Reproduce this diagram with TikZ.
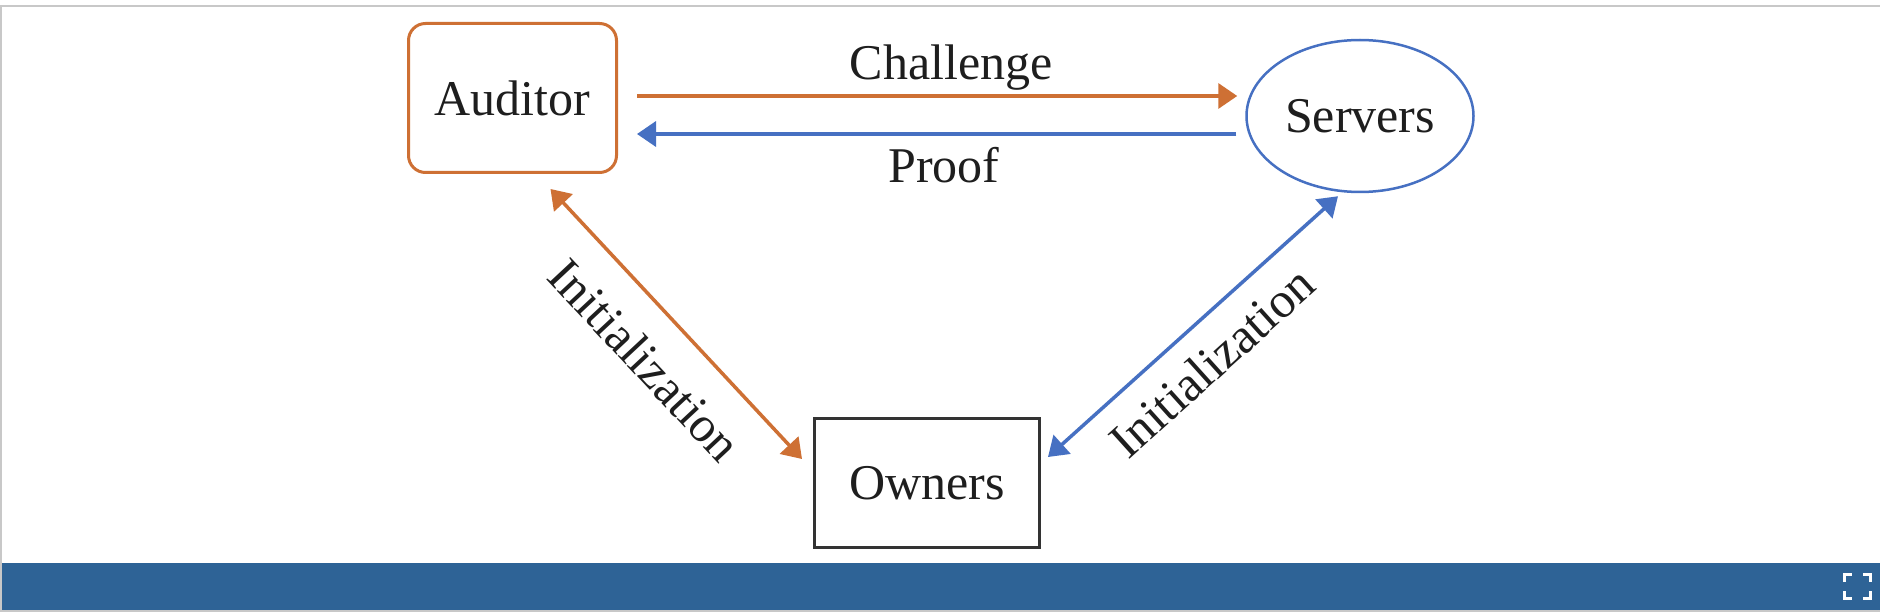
\documentclass[tikz,border=0pt]{standalone}
\usepackage{fontspec}
\setmainfont{Liberation Serif}
\usetikzlibrary{arrows.meta,shapes.geometric,calc}
\definecolor{audorange}{RGB}{206,112,52}
\definecolor{srvblue}{RGB}{70,112,194}
\definecolor{barblue}{RGB}{46,99,150}
\definecolor{framegray}{RGB}{200,200,200}
\definecolor{inkgray}{RGB}{30,30,30}
\tikzset{
  lbl/.style={font=\fontsize{50}{60}\selectfont, text=inkgray, inner sep=0pt},
  audbox/.style={lbl, draw=audorange, line width=3pt, rounded corners=17pt,
    minimum width=208pt, minimum height=149pt},
  srvell/.style={lbl, ellipse, draw=srvblue, line width=2.5pt, inner sep=0pt,
    minimum width=227pt, minimum height=152pt},
  ownbox/.style={lbl, draw=black!80, line width=3pt,
    minimum width=225pt, minimum height=129pt},
  tip/.tip={Triangle[length=19pt,width=25pt]},
  oarrow/.style={draw=audorange, line width=3.5pt, -tip, fill=audorange},
  barrow/.style={draw=srvblue, line width=3.5pt, -tip, fill=srvblue},
  dblo/.style={draw=audorange, line width=3.5pt, tip-tip},
  dblb/.style={draw=srvblue, line width=3.5pt, tip-tip},
  icon/.style={draw=white, line width=3pt, line cap=butt}
}
\begin{document}
\begin{tikzpicture}[x=1pt,y=-1pt]
\useasboundingbox (0,0) rectangle (1880,612);
\fill[white] (0,0) rectangle (1880,612);
% frame and bottom bar
\fill[framegray] (0,5) rectangle (1880,7);
\fill[framegray] (0,5) rectangle (2,612);
\fill[barblue] (2,563) rectangle (1880,610);
\fill[framegray] (0,610) rectangle (1880,612);
% expand icon
\draw[icon] (1844,582) -- (1844,574.5) -- (1852,574.5);
\draw[icon] (1863,574.5) -- (1870.5,574.5) -- (1870.5,582);
\draw[icon] (1844,591) -- (1844,598.5) -- (1852,598.5);
\draw[icon] (1863,598.5) -- (1870.5,598.5) -- (1870.5,591);
% nodes
\node[audbox] (auditor) at (512.5,98) {Auditor};
\node[srvell] (servers) at (1360,116) {Servers};
\node[ownbox] (owners) at (927,483) {Owners};
% horizontal arrows
\draw[draw=audorange, line width=3.5pt, -{Triangle[length=19pt,width=25pt]}, shorten <=19pt, shorten >=8pt]
  ([yshift=2pt]auditor.east) -- ([yshift=20pt]servers.west);
\draw[draw=srvblue, line width=3.5pt, -{Triangle[length=19pt,width=25pt]}, shorten <=9pt, shorten >=19pt]
  ([yshift=-18pt]servers.west) -- ([yshift=-36pt]auditor.east);
\node[lbl, anchor=base] (chal) at (951,80) {Challenge};
\node[lbl, anchor=base] (proof) at (944,183) {Proof};
% diagonal arrows
\coordinate (aend) at ($(auditor.south)+(38,15)$);
\coordinate (oleft) at ($(owners.north west)+(-11,42)$);
\coordinate (send) at ($(servers.south)+(-22,3)$);
\coordinate (oright) at ($(owners.north east)+(7,40)$);
\draw[draw=audorange, line width=3.5pt, {Triangle[length=19pt,width=25pt]}-{Triangle[length=19pt,width=25pt]}]
  (aend) -- (oleft);
\draw[draw=srvblue, line width=3.5pt, {Triangle[length=19pt,width=25pt]}-{Triangle[length=19pt,width=25pt]}]
  (send) -- (oright);
\node[lbl, rotate=-47] (initl) at (645,360) {Initialization};
\node[lbl, rotate=42] (initr) at (1212,362) {Initialization};
\end{tikzpicture}
\end{document}
